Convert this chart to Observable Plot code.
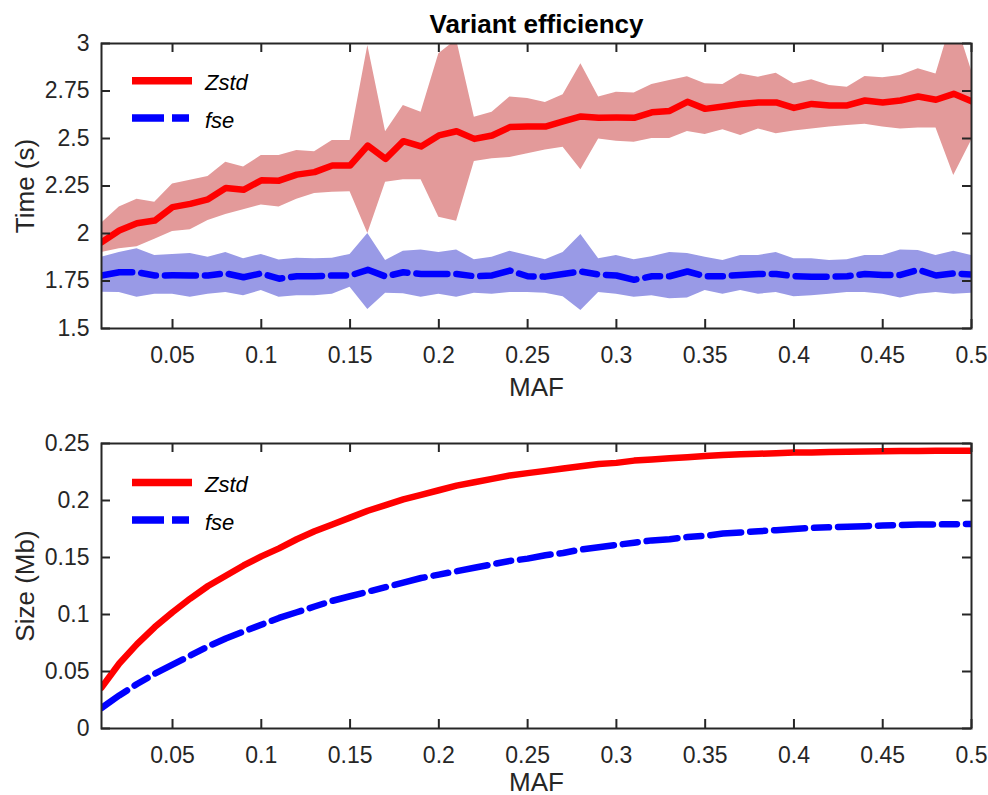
<!DOCTYPE html>
<html>
<head>
<meta charset="utf-8">
<script src="https://cdn.jsdelivr.net/npm/d3@7"></script>
<script src="https://cdn.jsdelivr.net/npm/@observablehq/plot@0.6"></script>
<style>
  html, body { margin: 0; padding: 0; background: white; }
  #wrap { position: relative; width: 988px; height: 795px; font-family: "Liberation Sans", Arial, sans-serif; }
  #wrap > svg { display: block; }
  #top { position: absolute; left: 0; top: 0; }
  #bottom { position: absolute; left: 0; top: 400px; }
  #legend { position: absolute; left: 0; top: 0; pointer-events: none; }
</style>
</head>
<body>
<div id="wrap">
  <div id="top"></div>
  <div id="bottom"></div>
</div>
<script>
// ---------- data ----------
const maf = [0.01,0.02,0.03,0.04,0.05,0.06,0.07,0.08,0.09,0.10,
             0.11,0.12,0.13,0.14,0.15,0.16,0.17,0.18,0.19,0.20,
             0.21,0.22,0.23,0.24,0.25,0.26,0.27,0.28,0.29,0.30,
             0.31,0.32,0.33,0.34,0.35,0.36,0.37,0.38,0.39,0.40,
             0.41,0.42,0.43,0.44,0.45,0.46,0.47,0.48,0.49,0.50];

const zstdTime = [1.954,2.016,2.054,2.068,2.139,2.156,2.180,2.240,2.230,2.280,
                  2.278,2.310,2.323,2.358,2.358,2.463,2.393,2.486,2.458,2.516,
                  2.538,2.498,2.516,2.560,2.563,2.563,2.590,2.616,2.609,2.610,
                  2.609,2.638,2.645,2.693,2.656,2.668,2.682,2.690,2.690,2.661,
                  2.682,2.674,2.674,2.700,2.690,2.700,2.721,2.704,2.735,2.696];
const zstdHi = [2.054,2.139,2.180,2.165,2.260,2.280,2.300,2.375,2.350,2.410,
                2.410,2.437,2.430,2.490,2.490,2.990,2.535,2.674,2.638,2.946,
                3.020,2.612,2.638,2.718,2.710,2.690,2.730,2.893,2.718,2.744,
                2.740,2.784,2.805,2.825,2.788,2.784,2.840,2.823,2.844,2.788,
                2.809,2.779,2.770,2.826,2.820,2.832,2.867,2.840,3.150,2.858];
const zstdLo = [1.900,1.920,1.930,1.970,2.010,2.020,2.068,2.100,2.125,2.150,
                2.140,2.180,2.210,2.217,2.220,2.000,2.270,2.283,2.283,2.086,
                2.065,2.379,2.393,2.400,2.420,2.440,2.454,2.335,2.497,2.486,
                2.480,2.500,2.500,2.537,2.521,2.546,2.516,2.550,2.525,2.540,
                2.550,2.560,2.568,2.575,2.560,2.550,2.555,2.555,2.305,2.490];

const fseTime = [1.779,1.796,1.796,1.779,1.780,1.779,1.779,1.790,1.770,1.790,
                 1.762,1.775,1.775,1.779,1.779,1.809,1.774,1.796,1.787,1.787,
                 1.787,1.775,1.779,1.805,1.775,1.773,1.787,1.800,1.784,1.779,
                 1.756,1.775,1.775,1.800,1.775,1.775,1.782,1.787,1.787,1.775,
                 1.773,1.773,1.775,1.787,1.782,1.782,1.809,1.779,1.790,1.784];
const fseHi = [1.875,1.900,1.920,1.884,1.890,1.895,1.875,1.900,1.867,1.890,
               1.860,1.870,1.867,1.870,1.890,2.000,1.858,1.907,1.913,1.900,
               1.913,1.862,1.875,1.907,1.884,1.862,1.900,1.995,1.867,1.884,
               1.862,1.878,1.900,1.895,1.875,1.858,1.884,1.884,1.900,1.867,
               1.867,1.858,1.862,1.884,1.884,1.913,1.910,1.884,1.907,1.884];
const fseLo = [1.691,1.690,1.665,1.680,1.680,1.665,1.680,1.690,1.673,1.700,
               1.665,1.673,1.673,1.680,1.717,1.600,1.685,1.683,1.665,1.680,
               1.665,1.685,1.680,1.690,1.690,1.685,1.667,1.595,1.690,1.680,
               1.665,1.673,1.656,1.660,1.700,1.680,1.700,1.680,1.690,1.667,
               1.673,1.680,1.690,1.690,1.680,1.660,1.680,1.690,1.680,1.685];

const zstdSize = [0.036,0.057,0.074,0.089,0.102,0.114,0.125,0.134,0.143,0.151,
                  0.158,0.166,0.173,0.179,0.185,0.191,0.196,0.201,0.205,0.209,
                  0.213,0.216,0.219,0.222,0.224,0.226,0.228,0.230,0.232,0.233,
                  0.235,0.236,0.237,0.238,0.239,0.240,0.2405,0.241,0.2415,0.242,
                  0.2422,0.2425,0.2428,0.243,0.2432,0.2434,0.2435,0.2436,0.2437,0.2437];
const fseSize = [0.018,0.029,0.039,0.048,0.056,0.064,0.072,0.079,0.085,0.091,
                 0.097,0.102,0.107,0.112,0.116,0.120,0.124,0.128,0.132,0.135,
                 0.138,0.141,0.144,0.147,0.149,0.152,0.154,0.157,0.159,0.161,
                 0.163,0.165,0.166,0.168,0.169,0.171,0.172,0.173,0.174,0.175,
                 0.176,0.1765,0.177,0.1775,0.178,0.1785,0.179,0.179,0.1792,0.1795];

const xTicks = [0.05,0.1,0.15,0.2,0.25,0.3,0.35,0.4,0.45,0.5];
const yTicksTime = [1.5,1.75,2,2.25,2.5,2.75,3];
const yTicksSize = [0,0.05,0.1,0.15,0.2,0.25];

const seriesNames = ["Zstd","fse"];
const titleText = "Variant efficiency";

// ---------- tables ----------
const timeRows = maf.map((m,i) => ({maf:m, z:zstdTime[i], zLo:zstdLo[i], zHi:zstdHi[i], f:fseTime[i], fLo:fseLo[i], fHi:fseHi[i]}));
const sizeRows = maf.map((m,i) => ({maf:m, z:zstdSize[i], f:fseSize[i]}));

// ---------- style ----------
const W = 988, ML = 101, MR = 17, MT = 43;
const AX = "#262626";
const RED = "#ff0000", BLUE = "#0000ff";
const RED_BAND = "#e39a9a", BLUE_BAND = "#999ae6";
const DASH = "31 9 15 9";
const FONT = "'Liberation Sans', Arial, Helvetica, sans-serif";

function boxTicks(xt, yt, plotW, plotH) {
  const t = 9;
  return [
    Plot.ruleX(xt, {stroke: AX, strokeWidth: 2, insetTop: plotH - t}),
    Plot.ruleX(xt, {stroke: AX, strokeWidth: 2, insetBottom: plotH - t}),
    Plot.ruleY(yt, {stroke: AX, strokeWidth: 2, insetRight: plotW - t}),
    Plot.ruleY(yt, {stroke: AX, strokeWidth: 2, insetLeft: plotW - t}),
    Plot.frame({stroke: AX, strokeWidth: 2})
  ];
}

function makePlot({height, marginBottom, yDomain, yTicks, rows, bands, yLabel, xLabelDy, title}) {
  const plotW = W - ML - MR, plotH = height - MT - marginBottom;
  const marks = [];
  if (bands) {
    marks.push(Plot.areaY(rows, {x: "maf", y1: "zLo", y2: "zHi", fill: RED_BAND, clip: true}));
    marks.push(Plot.areaY(rows, {x: "maf", y1: "fLo", y2: "fHi", fill: BLUE_BAND, clip: true}));
  }
  marks.push(Plot.line(rows, {x: "maf", y: "z", stroke: RED, strokeWidth: 6.5, clip: true}));
  marks.push(Plot.line(rows, {x: "maf", y: "f", stroke: BLUE, strokeWidth: 6.5, strokeDasharray: DASH, clip: true}));
  marks.push(...boxTicks(xTicks, yTicks, plotW, plotH));
  marks.push(Plot.axisX(xTicks, {tickSize: 0, tickPadding: 18, tickFormat: d => String(d), label: null, fill: AX, fontSize: 23}));
  marks.push(Plot.axisY(yTicks, {tickSize: 0, tickPadding: 12, tickFormat: d => String(d), label: null, fill: AX, fontSize: 23}));
  marks.push(Plot.text([yLabel], {frameAnchor: "left", dx: -68, rotate: -90, textAnchor: "middle", lineAnchor: "bottom", fontSize: 26, fill: AX}));
  marks.push(Plot.text(["MAF"], {frameAnchor: "bottom", dy: xLabelDy, textAnchor: "middle", lineAnchor: "bottom", fontSize: 26, fill: AX}));
  if (title) marks.push(Plot.text([title], {frameAnchor: "top", dy: -11, lineAnchor: "bottom", textAnchor: "middle", fontSize: 26, fontWeight: "bold", fill: "#000"}));
  return Plot.plot({
    width: W, height, marginLeft: ML, marginRight: MR, marginTop: MT, marginBottom,
    style: {fontFamily: FONT, fontSize: "23px", background: "white", overflow: "visible"},
    x: {domain: [0.01, 0.5], label: null},
    y: {domain: yDomain, label: null},
    marks
  });
}

document.getElementById("top").append(makePlot({
  height: 400, marginBottom: 72, yDomain: [1.5, 3], yTicks: yTicksTime, rows: timeRows,
  bands: true, yLabel: "Time (s)", xLabelDy: 67, title: titleText
}));
document.getElementById("bottom").append(makePlot({
  height: 395, marginBottom: 67, yDomain: [0, 0.25], yTicks: yTicksSize, rows: sizeRows,
  bands: false, yLabel: "Size (Mb)", xLabelDy: 62, title: null
}));

// ---------- legends (HTML/SVG overlay) ----------
const legends = [
  {top: 80.8, text: 118},
  {top: 482.5, text: 520}
];
const ns = "http://www.w3.org/2000/svg";
const lg = document.createElementNS(ns, "svg");
lg.setAttribute("id", "legend");
lg.setAttribute("width", W); lg.setAttribute("height", 795);
function el(name, attrs, txt) {
  const e = document.createElementNS(ns, name);
  for (const k in attrs) e.setAttribute(k, attrs[k]);
  if (txt) e.textContent = txt;
  lg.appendChild(e);
}
for (const L of legends) {
  const rows = [{y: L.top, color: RED, dash: null, name: seriesNames[0]}, {y: L.text, color: BLUE, dash: "32 8 17 8", name: seriesNames[1]}];
  for (const r of rows) {
    const a = {x1: 132, x2: 192, y1: r.y, y2: r.y, stroke: r.color, "stroke-width": 7.5};
    if (r.dash) a["stroke-dasharray"] = r.dash;
    el("line", a);
    el("text", {x: 205, y: r.y + 9.5, "font-family": FONT, "font-size": 22, "font-style": "italic", fill: "#000"}, r.name);
  }
}
document.getElementById("wrap").appendChild(lg);
</script>
</body>
</html>
